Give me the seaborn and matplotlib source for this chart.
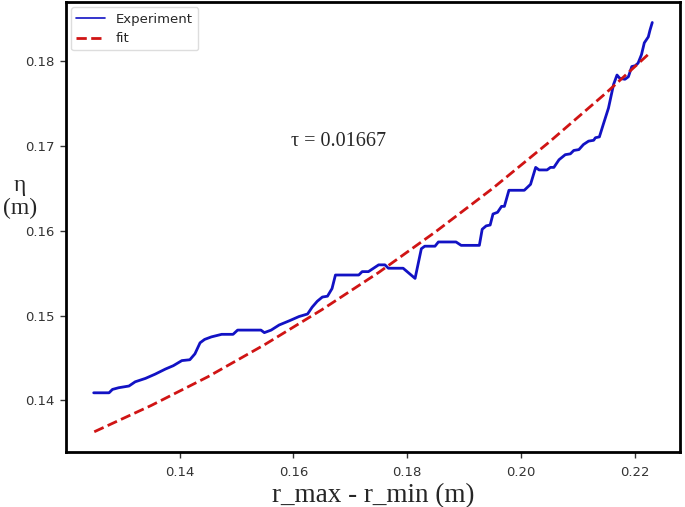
import matplotlib
matplotlib.use("Agg")
import matplotlib.pyplot as plt
import seaborn as sns
import pandas as pd

exp_x = [0.1249, 0.1276, 0.1282, 0.1293, 0.1311, 0.1322, 0.1340, 0.1357, 0.1375, 0.1389,
         0.1404, 0.1418, 0.1427, 0.1436, 0.1444, 0.1456, 0.1474, 0.1494, 0.1502, 0.1543,
         0.1549, 0.1561, 0.1575, 0.1593, 0.1610, 0.1625, 0.1633, 0.1642, 0.1651, 0.1660,
         0.1668, 0.1674, 0.1715, 0.1721, 0.1732, 0.1750, 0.1761, 0.1767, 0.1793, 0.1814,
         0.1825, 0.1831, 0.1849, 0.1855, 0.1886, 0.1895, 0.1927, 0.1932, 0.1939, 0.1946,
         0.1951, 0.1959, 0.1966, 0.1971, 0.1979, 0.2006, 0.2017, 0.2026, 0.2032, 0.2046,
         0.2052, 0.2058, 0.2067, 0.2078, 0.2087, 0.2093, 0.2102, 0.2110, 0.2119, 0.2128,
         0.2131, 0.2138, 0.2145, 0.2154, 0.2163, 0.2169, 0.2174, 0.2183, 0.2189, 0.2195,
         0.2201, 0.2206, 0.2212, 0.2217, 0.2224, 0.2227, 0.2231]
exp_y = [0.1409, 0.1409, 0.1413, 0.1415, 0.1417, 0.1422, 0.1426, 0.1431, 0.1437, 0.1441,
         0.1447, 0.1448, 0.1455, 0.1468, 0.1472, 0.1475, 0.1478, 0.1478, 0.1483, 0.1483,
         0.1480, 0.1483, 0.1489, 0.1494, 0.1499, 0.1502, 0.1510, 0.1517, 0.1522, 0.1523,
         0.1532, 0.1548, 0.1548, 0.1552, 0.1552, 0.1560, 0.1560, 0.1556, 0.1556, 0.1544,
         0.1579, 0.1582, 0.1582, 0.1587, 0.1587, 0.1583, 0.1583, 0.1602, 0.1606, 0.1607,
         0.1620, 0.1622, 0.1629, 0.1629, 0.1648, 0.1648, 0.1655, 0.1675, 0.1672, 0.1672,
         0.1675, 0.1675, 0.1684, 0.1690, 0.1691, 0.1695, 0.1696, 0.1702, 0.1706, 0.1707,
         0.1710, 0.1711, 0.1726, 0.1745, 0.1773, 0.1784, 0.1780, 0.1779, 0.1782, 0.1794,
         0.1795, 0.1798, 0.1808, 0.1822, 0.1829, 0.1837, 0.1846]

# Fitted curve
fit_x = [0.125, 0.135, 0.145, 0.155, 0.165, 0.175, 0.185, 0.195, 0.205, 0.215, 0.2225]
fit_y = [0.1363, 0.1394, 0.1428, 0.1466, 0.1507, 0.1551, 0.1599, 0.1650, 0.1705, 0.1763, 0.1809]

x_ticks = [0.14, 0.16, 0.18, 0.20, 0.22]
y_ticks = [0.14, 0.15, 0.16, 0.17, 0.18]
annotation = "τ = 0.01667"

sns.set_theme(style="ticks")
plt.rcParams['font.family'] = ['DejaVu Sans']

fig, ax = plt.subplots(figsize=(6.85, 5.07), dpi=100)
fig.subplots_adjust(left=0.096, right=0.993, top=0.996, bottom=0.108)

df_exp = pd.DataFrame({"x": exp_x, "y": exp_y})
df_fit = pd.DataFrame({"x": fit_x, "y": fit_y})

sns.lineplot(data=df_exp, x="x", y="y", ax=ax, color="#1212c4", linewidth=2.0,
             estimator=None, sort=False, label="Experiment")
sns.lineplot(data=df_fit, x="x", y="y", ax=ax, color="#d01414", linewidth=2.0,
             linestyle="--", estimator=None, sort=False, label="fit")

ax.set_xticks(x_ticks)
ax.set_xticklabels([f"{v:.2f}" for v in x_ticks])
ax.set_yticks(y_ticks)
ax.set_yticklabels([f"{v:.2f}" for v in y_ticks])
ax.tick_params(axis="both", labelsize=9.5, colors="#333333", length=4, width=1)
ax.tick_params(axis="x", pad=6)
ax.tick_params(axis="y", pad=4)

for s in ax.spines.values():
    s.set_color("black")
    s.set_linewidth(2.0)
    s.set_visible(True)

ax.set_xlabel("r_max - r_min (m)", family="Liberation Serif", fontsize=19.5, labelpad=3)
ax.set_ylabel("η\n(m)", family="Liberation Serif", fontsize=17, rotation=0,
              va="center", ha="center", linespacing=1.1)
ax.yaxis.set_label_coords(-0.075, 0.567)

ax.text(0.168, 0.1706, annotation, family="Liberation Serif", fontsize=14.5,
        ha="center", va="center")

leg = ax.legend(loc="upper left", fontsize=9.5, frameon=True, framealpha=1,
                edgecolor="#dddddd", handlelength=2.2, borderaxespad=0.4)
leg.get_lines()[0].set_linewidth(1.2)

fig.savefig("out.png", dpi=100)
